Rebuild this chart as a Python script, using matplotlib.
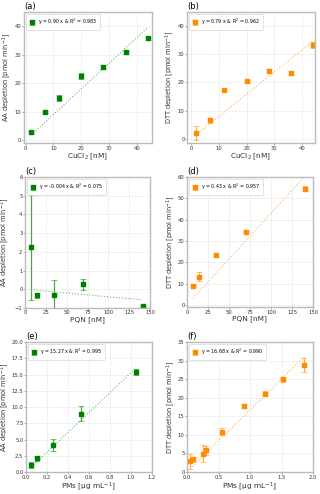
import matplotlib
matplotlib.use('Agg')
import matplotlib.pyplot as plt
import numpy as np

# (a)/(b) CuCl2
cu_x = [2, 7, 12, 20, 28, 36, 44]
aa_cu = [2.7, 9.8, 14.7, 22.5, 25.8, 30.8, 35.8]
aa_cu_err = [0.4, 0.4, 1.0, 1.0, 0.7, 0.5, 0.5]
dtt_cu = [2.1, 6.5, 17.2, 20.4, 24.1, 23.4, 33.3]
dtt_cu_err = [2.5, 1.0, 0.3, 0.4, 0.5, 0.7, 1.2]

# (c)/(d) PQN
pqn_x = [7, 14, 35, 70, 141]
aa_pqn = [2.25, -0.33, -0.33, 0.27, -0.9]
aa_pqn_err = [2.8, 0.12, 0.82, 0.3, 0.05]
dtt_pqn = [9.0, 13.2, 23.5, 34.4, 54.5]
dtt_pqn_err = [0.4, 2.0, 0.4, 0.4, 1.3]

# (e) PMs AA
pm_aa_x = [0.05, 0.1, 0.26, 0.52, 1.05]
aa_pm = [1.1, 2.1, 4.2, 9.0, 15.4]
aa_pm_err = [0.5, 0.4, 0.9, 1.2, 0.4]

# (f) PMs DTT
pm_dtt_x = [0.05, 0.1, 0.25, 0.3, 0.56, 0.9, 1.24, 1.52, 1.86]
dtt_pm = [2.9, 3.4, 4.9, 5.9, 10.9, 17.8, 21.1, 25.0, 28.8]
dtt_pm_err = [2.0, 0.6, 2.3, 1.2, 1.0, 0.5, 0.7, 0.7, 2.0]

slopes = [0.90, 0.79, -0.004, 0.43, 15.27, 16.68]
slope_txt = ['0.90', '0.79', '-0.004', '0.43', '15.27', '16.68']
r2 = ['0.983', '0.962', '0.075', '0.957', '0.995', '0.990']
labels = ['(a)', '(b)', '(c)', '(d)', '(e)', '(f)']

AA_COL = 'green'
DTT_COL = 'darkorange'

plt.rcParams['font.family'] = 'DejaVu Sans'

fig = plt.figure(figsize=(3.2, 4.94), dpi=100)
W, H = 320, 494
boxes = [
    (24, 12, 152, 143), (187, 12, 315, 143),
    (25, 177, 150, 308), (187, 177, 313, 307),
    (26, 342, 152, 472), (187, 342, 313, 472),
]
# right edge (px) of each rotated y label
ylab_px = [13, 176, 11.5, 177, 11.5, 177]

pm_lab = 'PMs [μg mL$^{-1}$]'
panels = [
    (cu_x, aa_cu, aa_cu_err, AA_COL, 'AA', r'CuCl$_2$ [nM]', (-0.6, 45.5), (-1, 45), [0, 10, 20, 30, 40], [0, 10, 20, 30, 40]),
    (cu_x, dtt_cu, dtt_cu_err, DTT_COL, 'DTT', r'CuCl$_2$ [nM]', (-1.4, 44.6), (-1.5, 45), [0, 10, 20, 30, 40], [0, 10, 20, 30, 40]),
    (pqn_x, aa_pqn, aa_pqn_err, AA_COL, 'AA', 'PQN [nM]', (0, 150), (-1, 6), [0, 25, 50, 75, 100, 125, 150], [-1, 0, 1, 2, 3, 4, 5, 6]),
    (pqn_x, dtt_pqn, dtt_pqn_err, DTT_COL, 'DTT', 'PQN [nM]', (0, 150), (-1, 60), [0, 25, 50, 75, 100, 125, 150], [0, 10, 20, 30, 40, 50, 60]),
    (pm_aa_x, aa_pm, aa_pm_err, AA_COL, 'AA', pm_lab, (0, 1.2), (0, 20), [0, 0.2, 0.4, 0.6, 0.8, 1.0, 1.2], [0, 2.5, 5, 7.5, 10, 12.5, 15, 17.5, 20]),
    (pm_dtt_x, dtt_pm, dtt_pm_err, DTT_COL, 'DTT', pm_lab, (0, 2), (0, 35), [0, 0.5, 1.0, 1.5, 2.0], [0, 5, 10, 15, 20, 25, 30, 35]),
]

for i, (box, p) in enumerate(zip(boxes, panels)):
    x0, y0, x1, y1 = box
    ax = fig.add_axes([x0 / W, 1 - y1 / H, (x1 - x0) / W, (y1 - y0) / H])
    xs, ys, errs, col, kind, xlab, xl, yl, xt, yt = p
    eb = ax.errorbar(xs, ys, yerr=errs, fmt='s', color=col, ms=2.5, mec=col,
                     ecolor=col, elinewidth=0.9, capsize=2, capthick=0.6,
                     label=f'y = {slope_txt[i]} x & R$^2$ = {r2[i]}')
    for line in eb[1]:
        line.set_alpha(0.6)
    for coll in eb[2]:
        coll.set_alpha(0.7)
    fx = np.array([xs[0], xs[-1]])
    ax.plot(fx, slopes[i] * fx, ':', color='#5cc25c' if col == AA_COL else '#ffb55a',
            lw=0.8)
    ax.set_xlim(*xl)
    ax.set_ylim(*yl)
    ax.set_xticks(xt)
    ax.set_yticks(yt)
    ax.set_xlabel(xlab, fontsize=5.3, labelpad=0.5, color='#333333')
    ax.set_ylabel(f'{kind} depletion [pmol min$^{{-1}}$]', fontsize=4.8, color='#333333')
    ax.yaxis.set_label_coords((ylab_px[i] - x0) / (x1 - x0), 0.5)
    ax.tick_params(labelsize=3.8, length=1.2, width=0.5, color='#888888', pad=0.6, labelcolor='#333333')
    ax.grid(True, ls='--', lw=0.4, color='#dddddd')
    for s in ax.spines.values():
        s.set_color('#bbbbbb')
        s.set_linewidth(1.0)
    ax.set_title(labels[i], loc='left', fontsize=6, pad=2)
    leg = ax.legend(loc='upper left', fontsize=3.4, frameon=True, handlelength=1.2,
                    borderpad=0.6, handletextpad=0.8, borderaxespad=0.4)
    leg.get_frame().set_linewidth(0.5)
    leg.get_frame().set_edgecolor('#cccccc')

fig.savefig('out.png', dpi=100)
